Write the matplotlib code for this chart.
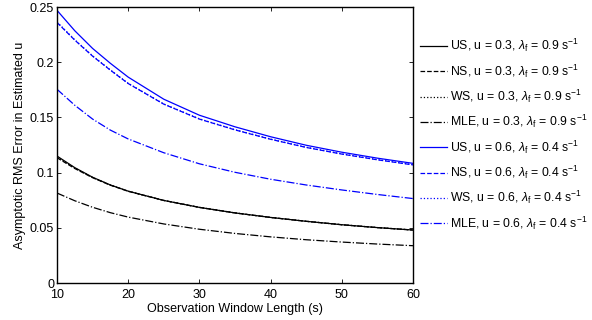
import numpy as np
import matplotlib
matplotlib.use("Agg")
import matplotlib.pyplot as plt

plt.rcParams['font.family'] = ['Liberation Sans', 'DejaVu Sans']
plt.rcParams['mathtext.fontset'] = 'custom'
plt.rcParams['mathtext.rm'] = 'Liberation Sans'
plt.rcParams['mathtext.it'] = 'Liberation Sans:italic'

# observation window length (s)
T = [10, 12.5, 15, 17.5, 20, 25, 30, 35, 40, 45, 50, 55, 60]

# u = 0.3, lambda_f = 0.9
us_a = [0.115, 0.1045, 0.0958, 0.0888, 0.0832, 0.0748, 0.0685, 0.0635, 0.0594, 0.0559, 0.0528, 0.0502, 0.048]
ns_a = [0.1135, 0.1037, 0.0954, 0.0886, 0.0831, 0.0748, 0.0685, 0.0635, 0.0594, 0.0559, 0.0528, 0.0502, 0.048]
ws_a = [0.1142, 0.1041, 0.0956, 0.0887, 0.0831, 0.0748, 0.0685, 0.0635, 0.0594, 0.0559, 0.0528, 0.0502, 0.048]
mle_a = [0.0815, 0.0745, 0.0686, 0.0637, 0.0597, 0.0535, 0.0487, 0.0449, 0.0418, 0.0392, 0.0371, 0.0353, 0.0338]

# u = 0.6, lambda_f = 0.4
us_b = [0.247, 0.2285, 0.2125, 0.199, 0.1865, 0.1665, 0.152, 0.1415, 0.1325, 0.1248, 0.1185, 0.1131, 0.1084]
ns_b = [0.236, 0.220, 0.2055, 0.1928, 0.1807, 0.162, 0.1485, 0.1387, 0.1302, 0.1228, 0.1168, 0.1116, 0.107]
ws_b = [0.2365, 0.2203, 0.2058, 0.193, 0.1809, 0.1622, 0.1487, 0.1389, 0.1304, 0.123, 0.117, 0.1118, 0.1072]
mle_b = [0.1755, 0.161, 0.1485, 0.1385, 0.1305, 0.118, 0.108, 0.1003, 0.094, 0.0888, 0.0843, 0.0802, 0.0765]

fig = plt.figure(figsize=(5.92, 3.2), dpi=100)
ax = fig.add_axes([0.0963, 0.1156, 0.6013, 0.8624])

lab_a = r'u = 0.3, $\lambda_\mathrm{f}$ = 0.9 s$^{-1}$'
lab_b = r'u = 0.6, $\lambda_\mathrm{f}$ = 0.4 s$^{-1}$'
lw = 0.9
ax.plot(T, us_a, '-', color='k', lw=lw, label='US, ' + lab_a)
ax.plot(T, ns_a, '--', color='k', lw=lw, label='NS, ' + lab_a)
ax.plot(T, ws_a, ':', color='k', lw=lw, label='WS, ' + lab_a)
ax.plot(T, mle_a, '-.', color='k', lw=lw, label='MLE, ' + lab_a)
ax.plot(T, us_b, '-', color='b', lw=lw, label='US, ' + lab_b)
ax.plot(T, ns_b, '--', color='b', lw=lw, label='NS, ' + lab_b)
ax.plot(T, ws_b, ':', color='b', lw=lw, label='WS, ' + lab_b)
ax.plot(T, mle_b, '-.', color='b', lw=lw, label='MLE, ' + lab_b)

ax.set_xlim(10, 60)
ax.set_ylim(0, 0.25)
ax.set_xticks([10, 20, 30, 40, 50, 60])
ax.set_yticks([0, 0.05, 0.1, 0.15, 0.2, 0.25])
ax.set_yticklabels(['0', '0.05', '0.1', '0.15', '0.2', '0.25'])
ax.tick_params(direction='in', top=True, right=True, labelsize=9, length=3, width=0.6)
ax.tick_params(axis='x', pad=4)
ax.tick_params(axis='y', pad=2)
for s in ax.spines.values():
    s.set_linewidth(1.0)
ax.set_xlabel('Observation Window Length (s)', fontsize=9, labelpad=2)
ax.set_ylabel('Asymptotic RMS Error in Estimated u', fontsize=9, labelpad=3)

fig.legend(loc='upper left', bbox_to_anchor=(0.701, 0.9), frameon=False,
           fontsize=8.8, handlelength=2.2, handletextpad=0.25, labelspacing=0.66,
           borderaxespad=0)

fig.savefig('out.png', dpi=100)
